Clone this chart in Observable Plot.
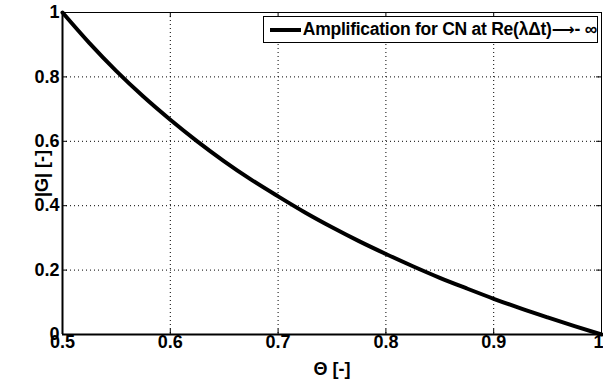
<!DOCTYPE html>
<html><head><meta charset="utf-8">
<script src="https://cdn.jsdelivr.net/npm/d3@7"></script>
<script src="https://cdn.jsdelivr.net/npm/@observablehq/plot@0.6"></script>
<style>
body{margin:0;background:#fff;font-family:"Liberation Sans",Arial,sans-serif;}
#wrap{position:relative;width:603px;height:381px;}
#legend{position:absolute;left:263px;top:16px;width:335px;height:27px;border:1px solid #000;background:#fff;box-sizing:border-box;display:flex;align-items:center;font-weight:bold;font-size:17.5px;white-space:nowrap;letter-spacing:-0.25px;}
#legend .ln{display:inline-block;width:37px;height:4px;background:#000;margin-left:6px;margin-right:2px;}
#legend .ar{font-family:"DejaVu Sans";font-size:16px;letter-spacing:0;}
</style></head><body>
<div id="wrap"><div id="legend"><span class="ln"></span>Amplification for CN at Re(λΔt)<span class="ar">⟶</span>- ∞</div></div>
<script>
const theta = [0.5,0.525,0.55,0.575,0.6,0.625,0.65,0.675,0.7,0.725,0.75,0.775,0.8,0.825,0.85,0.875,0.9,0.925,0.95,0.975,1.0];
const gain  = [1.0,0.905,0.818,0.739,0.667,0.600,0.538,0.481,0.429,0.379,0.333,0.290,0.250,0.212,0.176,0.143,0.111,0.081,0.053,0.026,0.0];
const xTicks = [0.5,0.6,0.7,0.8,0.9];
const xTickEnd = [1];
const yTicks = [0,0.2,0.4,0.6,0.8,1];
const data = theta.map((t,i)=>({t, g: gain[i]}));
const fmt = d => d === 0 || d === 1 ? String(d) : d.toFixed(1);
const inX = [0.6,0.7,0.8,0.9];
const inY = [0.2,0.4,0.6,0.8];
const chart = Plot.plot({
  width: 603, height: 381,
  marginLeft: 62, marginRight: 2, marginTop: 12, marginBottom: 47,
  style: {color: "#000", background: "#fff", overflow: "visible", fontFamily: "'Liberation Sans', Arial, sans-serif", fontSize: "18px", fontWeight: "bold"},
  x: {domain: [0.5, 1]},
  y: {domain: [0, 1]},
  marks: [
    Plot.ruleX(inX, {stroke: "#000", strokeWidth: 1, strokeDasharray: "1,3"}),
    Plot.ruleY(inY, {stroke: "#000", strokeWidth: 1, strokeDasharray: "1,3"}),
    Plot.ruleX(inX, {y1: 0, y2: 0.016, stroke: "#000"}),
    Plot.ruleX(inX, {y1: 1, y2: 0.984, stroke: "#000"}),
    Plot.ruleY(inY, {x1: 0.5, x2: 0.5046, stroke: "#000"}),
    Plot.ruleY(inY, {x1: 1, x2: 0.9954, stroke: "#000"}),
    Plot.frame({stroke: "#000", strokeWidth: 1}),
    Plot.ruleX([0.5], {stroke: "#000", strokeWidth: 2}),
    Plot.ruleY([0], {stroke: "#000", strokeWidth: 2}),
    Plot.line(data, {x: "t", y: "g", stroke: "#000", strokeWidth: 4, curve: "monotone-x"}),
    Plot.axisX(xTicks, {tickSize: 0, tickPadding: 1, fontSize: 18, fontWeight: "bold", tickFormat: fmt, label: "Θ [-]", labelAnchor: "center", labelArrow: "none", labelOffset: 40}),
    Plot.axisX(xTickEnd, {tickSize: 0, tickPadding: 1, fontSize: 18, fontWeight: "bold", tickFormat: fmt, textAnchor: "end", dx: 2, label: null}),
    Plot.axisY(yTicks, {tickSize: 0, tickPadding: 3, fontSize: 18, fontWeight: "bold", tickFormat: fmt, label: "|G| [-]", labelAnchor: "center", labelArrow: "none", labelOffset: 27})
  ]
});
document.getElementById("wrap").prepend(chart);
chart.style.display = "block";
</script>
</body></html>
